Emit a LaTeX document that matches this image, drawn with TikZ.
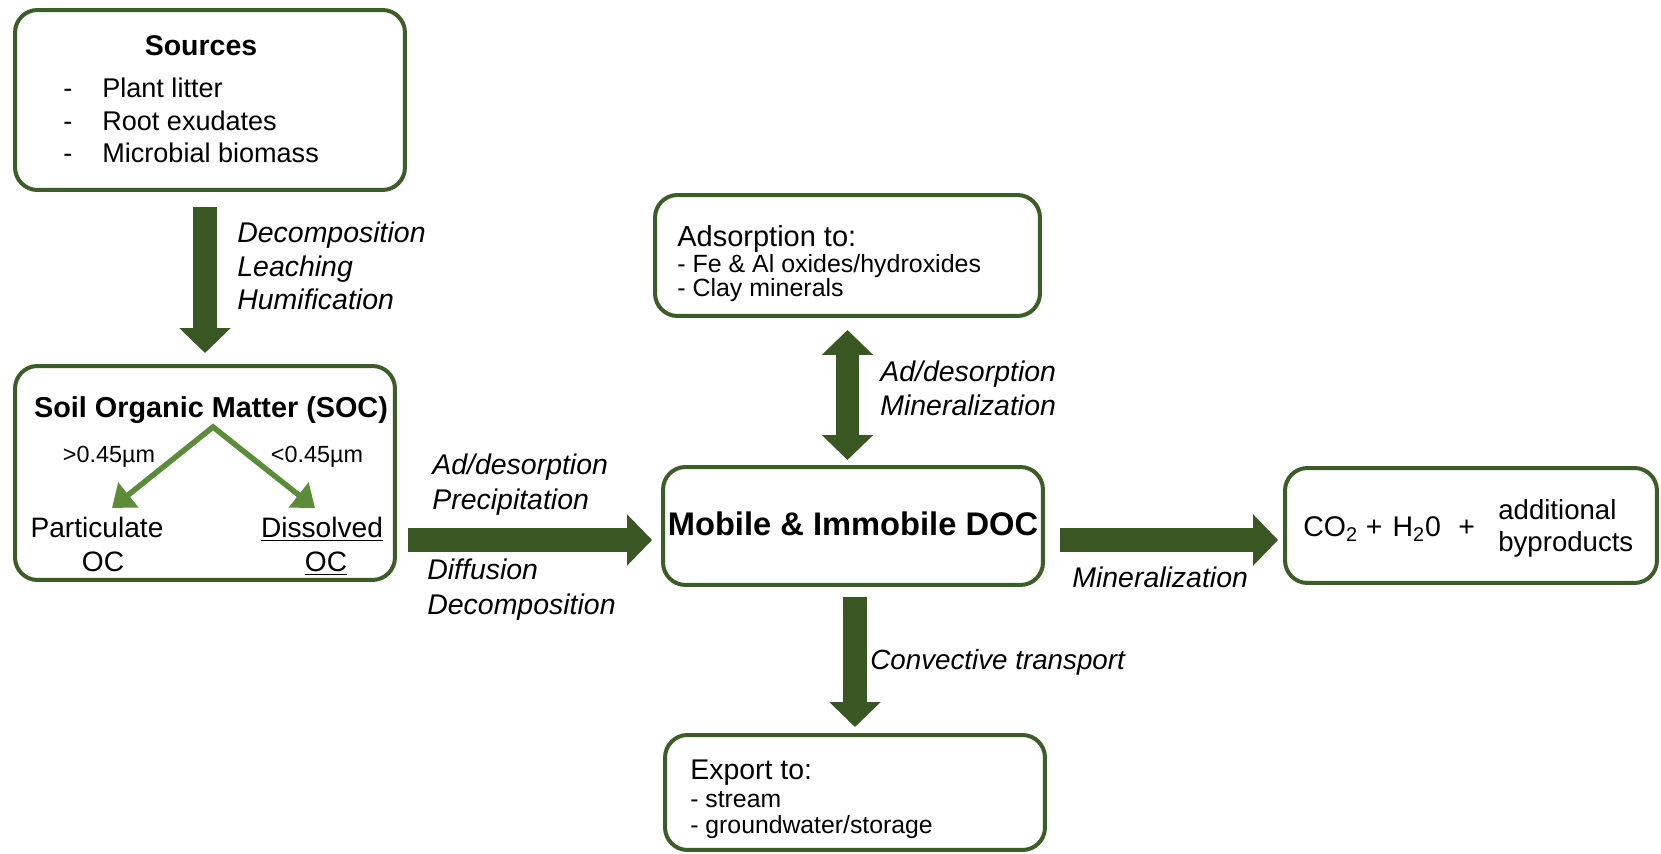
\documentclass[tikz,border=0pt]{standalone}
\usepackage{fontspec}
\setmainfont{Liberation Sans}
\usetikzlibrary{arrows.meta}

\definecolor{boxgreen}{HTML}{3B5D27}
\definecolor{arrowgreen}{HTML}{385723}
\definecolor{splitgreen}{HTML}{5A8C3A}

\tikzset{
  box/.style={draw=boxgreen, line width=0.08cm, rounded corners=0.45cm, inner sep=0pt},
  bigarrow/.style={draw=arrowgreen, line width=0.49cm, -{Triangle[length=0.5cm,width=1cm]}},
  twoway/.style={draw=arrowgreen, line width=0.46cm, {Triangle[length=0.5cm,width=1cm]}-{Triangle[length=0.5cm,width=1cm]}},
  splitarrow/.style={draw=splitgreen, line width=0.11cm, line join=miter, {Triangle[length=0.42cm,width=0.62cm]}-{Triangle[length=0.42cm,width=0.62cm]}},
  head/.style={font=\fontsize{16.2}{19}\selectfont\bfseries, inner sep=0pt, anchor=base},
  item/.style={font=\fontsize{15.4}{18}\selectfont, inner sep=0pt, anchor=base west},
  lbl/.style={font=\fontsize{16.2}{19}\selectfont\itshape, inner sep=0pt, anchor=base west}
}

\begin{document}
\begin{tikzpicture}[x=0.02cm, y=-0.02cm]
\useasboundingbox (0,0) rectangle (1661,854);

\node [box, minimum width=7.8cm, minimum height=3.6cm] (sources) at (210,100) {};
\node [head] (srctitle) at (201,56) {Sources};
\node [item] (src1) at (63,98) {\makebox[0.78cm][l]{-}Plant litter};
\node [item] (src2) at (63,131) {\makebox[0.78cm][l]{-}Root exudates};
\node [item] (src3) at (63,163) {\makebox[0.78cm][l]{-}Microbial biomass};

\node [box, minimum width=7.6cm, minimum height=4.28cm] (soc) at (205,473) {};
\node [head, font=\fontsize{16.4}{19}\selectfont\bfseries] (soctitle) at (211,418) {Soil Organic Matter (SOC)};
\node [item, anchor=base, font=\fontsize{13.3}{16}\selectfont] (big) at (109,463) {>0.45µm};
\node [item, anchor=base, font=\fontsize{13.3}{16}\selectfont] (small) at (317,463) {<0.45µm};
\node [item, anchor=base, font=\fontsize{16}{19}\selectfont] (part1) at (97,538) {Particulate};
\node [item, anchor=base, font=\fontsize{16}{19}\selectfont] (part2) at (103,572) {OC};
\node [item, anchor=base, font=\fontsize{16}{19}\selectfont] (diss1) at (322,538) {\underline{Dissolved}};
\node [item, anchor=base, font=\fontsize{16}{19}\selectfont] (diss2) at (326,572) {\underline{OC}};
\coordinate (apex) at (213,427);
\coordinate (ptip) at (112,508);
\coordinate (dtip) at (315,508);
\draw [splitarrow] (ptip) -- (apex) -- (dtip);

\node [box, minimum width=7.7cm, minimum height=2.42cm] (ads) at (847.5,255.5) {};
\node [item, font=\fontsize{16.5}{19}\selectfont] (adstitle) at (677,247) {Adsorption to:};
\node [item, font=\fontsize{14.2}{17}\selectfont] (ads1) at (677,273) {- Fe \& Al oxides/hydroxides};
\node [item, font=\fontsize{14.2}{17}\selectfont] (ads2) at (677,297) {- Clay minerals};

\node [box, minimum width=7.6cm, minimum height=2.36cm] (mob) at (853,526) {};
\node [head, font=\fontsize{18.6}{22}\selectfont\bfseries] (mobtitle) at (853,536) {Mobile \& Immobile DOC};

\node [box, minimum width=7.44cm, minimum height=2.3cm] (prod) at (1471,525.5) {};
\node [item, font=\fontsize{16.2}{19}\selectfont] (prod1) at (1303,537) {CO\textsubscript{2} +\hspace{0.2cm}H\textsubscript{2}0\hspace{0.35cm}+};
\node [item, font=\fontsize{15.7}{18}\selectfont] (prod2) at (1498,520) {additional};
\node [item, font=\fontsize{15.7}{18}\selectfont] (prod3) at (1498,552) {byproducts};

\node [box, minimum width=7.6cm, minimum height=2.3cm] (exp) at (855,792.5) {};
\node [item, font=\fontsize{16.2}{19}\selectfont] (exptitle) at (690,780) {Export to:};
\node [item, font=\fontsize{14.1}{17}\selectfont] (exp1) at (690,807) {- stream};
\node [item, font=\fontsize{14.1}{17}\selectfont] (exp2) at (690,833) {- groundwater/storage};

\coordinate (flow) at (0,540);

\draw [bigarrow, shorten <=0.3cm, shorten >=0.22cm] (soc.north |- sources.south) -- (soc.north);
\draw [bigarrow, shorten <=0.22cm, shorten >=0.18cm] (soc.east |- flow) -- (mob.west |- flow);
\draw [twoway, shorten <=0.24cm, shorten >=0.1cm] (ads.south) -- (ads.south |- mob.north);
\draw [bigarrow, shorten <=0.3cm, shorten >=0.1cm] (mob.east |- flow) -- (prod.west |- flow);
\draw [bigarrow, shorten <=0.2cm, shorten >=0.12cm] (exp.north |- mob.south) -- (exp.north);

\node [lbl] (l1) at (237,243) {Decomposition};
\node [lbl] (l2) at (237,277) {Leaching};
\node [lbl] (l3) at (237,310) {Humification};

\node [lbl] (l4) at (432,475) {Ad/desorption};
\node [lbl] (l5) at (432,510) {Precipitation};
\node [lbl] (l6) at (427,580) {Diffusion};
\node [lbl] (l7) at (427,615) {Decomposition};

\node [lbl] (l8) at (880,382) {Ad/desorption};
\node [lbl] (l9) at (880,416) {Mineralization};

\node [lbl] (l10) at (1072,588) {Mineralization};

\node [lbl, font=\fontsize{15.8}{19}\selectfont\itshape] (l11) at (870,670) {Convective transport};
\end{tikzpicture}
\end{document}
